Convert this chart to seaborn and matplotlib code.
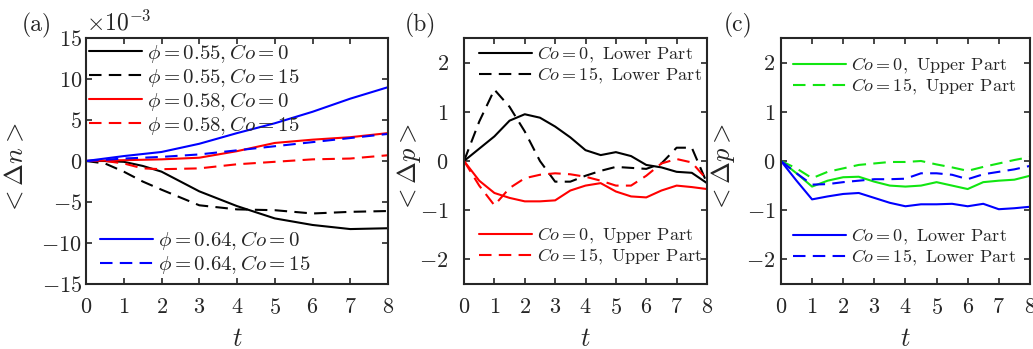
import numpy as np
import pandas as pd
import seaborn as sns
import matplotlib.pyplot as plt

# --- data (panel a is in units of 1e-3) ---
t_a = [0, 0.5, 1, 1.5, 2, 3, 4, 5, 6, 7, 8]
n055_co0 = [0, 0.0, -0.1, -0.6, -1.3, -3.7, -5.5, -7.0, -7.8, -8.3, -8.2]
n055_co15 = [0, -0.3, -1.3, -2.5, -3.5, -5.4, -5.9, -6.0, -6.4, -6.2, -6.1]
n058_co0 = [0, 0.05, 0.1, 0.15, 0.2, 0.4, 1.2, 2.2, 2.6, 2.9, 3.4]
n058_co15 = [0, 0.0, -0.3, -0.9, -1.0, -0.9, -0.4, -0.1, 0.2, 0.3, 0.7]
n064_co0 = [0, 0.3, 0.6, 0.85, 1.1, 2.1, 3.4, 4.6, 6.0, 7.6, 9.0]
n064_co15 = [0, 0.15, 0.3, 0.4, 0.5, 0.8, 1.3, 1.8, 2.3, 2.8, 3.3]

t_p = [0, 0.5, 1, 1.5, 2, 2.5, 3, 3.5, 4, 4.5, 5, 5.5, 6, 6.5, 7, 7.5, 8]
b_low_co0 = [0, 0.25, 0.5, 0.82, 0.95, 0.88, 0.7, 0.48, 0.22, 0.12, 0.18, 0.1,
             -0.08, -0.13, -0.22, -0.24, -0.45]
b_low_co15 = [0, 0.8, 1.45, 1.1, 0.6, 0.0, -0.42, -0.42, -0.3, -0.2, -0.12, -0.14,
              -0.16, -0.05, 0.27, 0.27, -0.45]
b_up_co0 = [0, -0.4, -0.65, -0.75, -0.82, -0.82, -0.8, -0.6, -0.5, -0.45, -0.62, -0.72,
            -0.74, -0.6, -0.5, -0.53, -0.57]
b_up_co15 = [0, -0.5, -0.9, -0.55, -0.35, -0.28, -0.25, -0.27, -0.32, -0.4, -0.5, -0.5,
             -0.3, -0.05, 0.04, -0.03, -0.38]

c_up_co0 = [0, -0.25, -0.52, -0.4, -0.33, -0.32, -0.42, -0.5, -0.52, -0.5, -0.43, -0.5,
            -0.57, -0.43, -0.4, -0.38, -0.3]
c_up_co15 = [0, -0.15, -0.35, -0.22, -0.15, -0.08, -0.05, -0.02, -0.02, 0.0, -0.07,
             -0.13, -0.2, -0.12, -0.05, 0.02, 0.08]
c_low_co0 = [0, -0.4, -0.78, -0.72, -0.67, -0.65, -0.75, -0.85, -0.92, -0.88, -0.88,
             -0.87, -0.92, -0.87, -0.98, -0.96, -0.93]
c_low_co15 = [0, -0.25, -0.48, -0.47, -0.43, -0.4, -0.37, -0.37, -0.36, -0.25, -0.25,
              -0.28, -0.37, -0.27, -0.22, -0.17, -0.1]

sns.set_style('ticks')
plt.rcParams['font.family'] = ['cmr10', 'DejaVu Serif']
plt.rcParams['mathtext.fontset'] = 'cm'
plt.rcParams['axes.unicode_minus'] = False
plt.rcParams['axes.formatter.use_mathtext'] = True

fig = plt.figure(figsize=(10.33, 3.49), dpi=100)
ax_a = fig.add_axes([0.0833, 0.1862, 0.2923, 0.705])
ax_b = fig.add_axes([0.4492, 0.1862, 0.2352, 0.705])
ax_c = fig.add_axes([0.7560, 0.1862, 0.2410, 0.705])

solid = '-'
dash = (0, (6, 3.5))
lw = 1.5


def draw(ax, t, y, color, ls, label):
    sns.lineplot(x=t, y=y, ax=ax, color=color, linewidth=lw, linestyle=ls,
                 label=label, legend=False)


# panel (a)
draw(ax_a, t_a, n055_co0, 'black', solid, r'$\phi=0.55,Co=0$')
draw(ax_a, t_a, n055_co15, 'black', dash, r'$\phi=0.55,Co=15$')
draw(ax_a, t_a, n058_co0, 'red', solid, r'$\phi=0.58,Co=0$')
draw(ax_a, t_a, n058_co15, 'red', dash, r'$\phi=0.58,Co=15$')
draw(ax_a, t_a, n064_co0, 'blue', solid, r'$\phi=0.64,Co=0$')
draw(ax_a, t_a, n064_co15, 'blue', dash, r'$\phi=0.64,Co=15$')

# panel (b)
draw(ax_b, t_p, b_low_co0, 'black', solid, r'$Co=0,$ Lower Part')
draw(ax_b, t_p, b_low_co15, 'black', dash, r'$Co=15,$ Lower Part')
draw(ax_b, t_p, b_up_co0, 'red', solid, r'$Co=0,$ Upper Part')
draw(ax_b, t_p, b_up_co15, 'red', dash, r'$Co=15,$ Upper Part')

# panel (c)
green = '#11e611'
draw(ax_c, t_p, c_up_co0, green, solid, r'$Co=0,$ Upper Part')
draw(ax_c, t_p, c_up_co15, green, dash, r'$Co=15,$ Upper Part')
draw(ax_c, t_p, c_low_co0, 'blue', solid, r'$Co=0,$ Lower Part')
draw(ax_c, t_p, c_low_co15, 'blue', dash, r'$Co=15,$ Lower Part')

base_kw = dict(frameon=False, handletextpad=0.25, labelspacing=0.05,
               borderaxespad=0.0, borderpad=0.0)
# (axes, split, fontsize, handlelength, top anchor, bottom anchor)
legend_spec = [
    (ax_a, 4, 15, 2.55, (0.01, 0.985), (0.046, 0.033)),
    (ax_b, 2, 13, 2.95, (0.062, 0.972), (0.062, 0.069)),
    (ax_c, 2, 13, 2.95, (0.048, 0.927), (0.048, 0.065)),
]
for ax, split, fs, hl, top_anchor, bot_anchor in legend_spec:
    h, l = ax.get_legend_handles_labels()
    top = ax.legend(h[:split], l[:split], loc='upper left', bbox_to_anchor=top_anchor,
                    fontsize=fs, handlelength=hl, **base_kw)
    ax.add_artist(top)
    ax.legend(h[split:], l[split:], loc='lower left', bbox_to_anchor=bot_anchor,
              fontsize=fs, handlelength=hl, **base_kw)

for ax in (ax_a, ax_b, ax_c):
    ax.set_xlim(0, 8)
    ax.set_xticks(range(0, 9))
    ax.tick_params(direction='in', top=True, right=True, labelsize=16,
                   length=4, width=1.2, color='#262626')
    ax.tick_params(axis='x', pad=10)
    for s in ax.spines.values():
        s.set_linewidth(1.5)
        s.set_color('#262626')
    ax.set_xlabel(r'$t$', fontsize=19, va='top')
    ax.xaxis.set_label_coords(0.5, -0.175)

ax_a.set_ylim(-15, 15)
ax_a.set_yticks(range(-15, 16, 5))
ax_a.tick_params(axis='y', pad=3)
ax_a.set_ylabel(r'$<\Delta n>$', fontsize=19)
ax_a.yaxis.set_label_coords(-0.192, 0.47)
ax_a.text(0.0, 1.01, r'$\times10^{-3}$', transform=ax_a.transAxes, fontsize=17,
          ha='left', va='bottom')

for ax, ypad, lx in [(ax_b, 11, -0.169), (ax_c, 4, -0.177)]:
    ax.set_ylim(-2.5, 2.5)
    ax.set_yticks([-2, -1, 0, 1, 2])
    ax.tick_params(axis='y', pad=ypad)
    ax.set_ylabel(r'$<\Delta p>$', fontsize=19)
    ax.yaxis.set_label_coords(lx, 0.47)

fig.text(0.021, 0.91, '(a)', fontsize=17)
fig.text(0.392, 0.91, '(b)', fontsize=17)
fig.text(0.701, 0.91, '(c)', fontsize=17)

fig.savefig('out.png', dpi=100)
